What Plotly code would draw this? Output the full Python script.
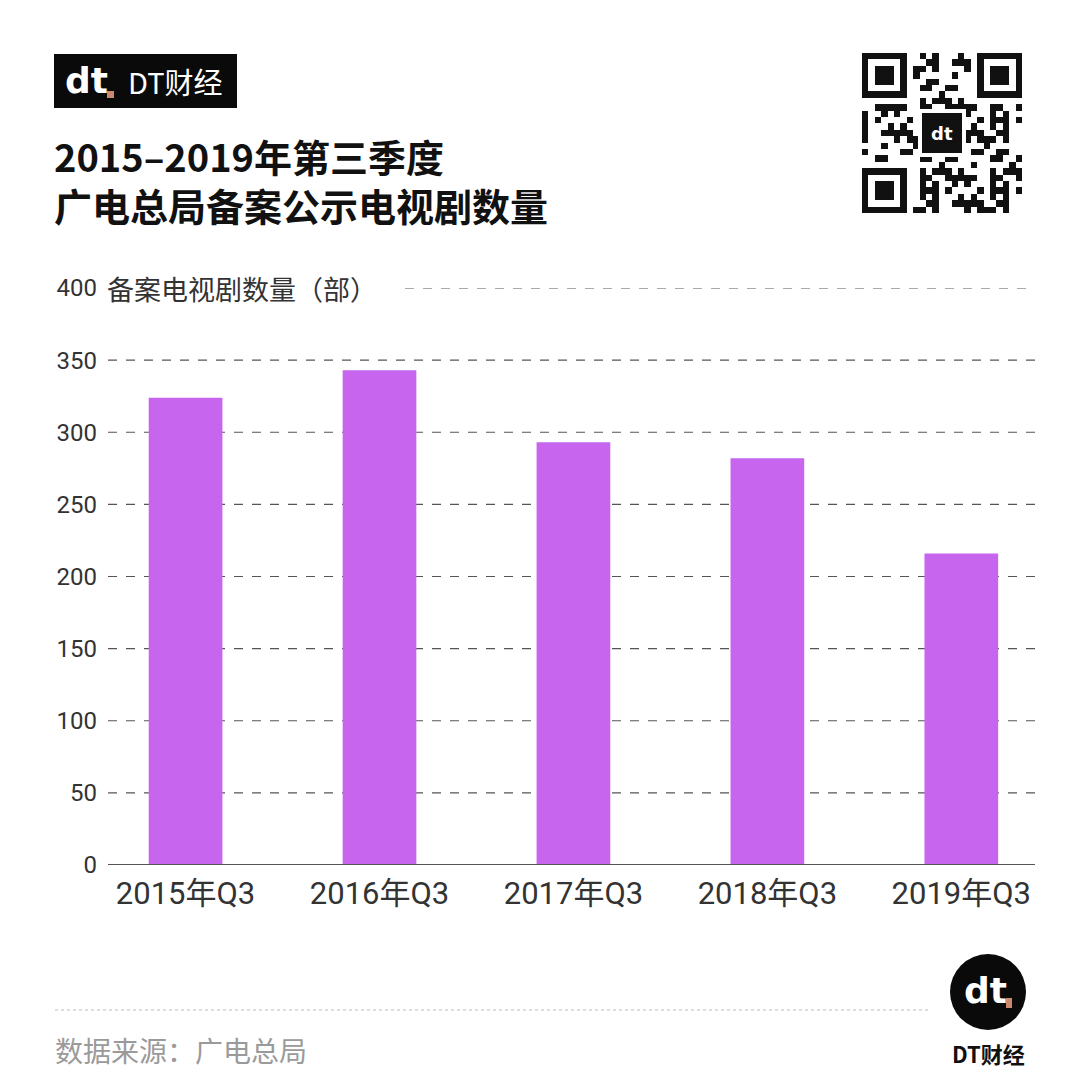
import plotly.graph_objects as go

# page body has an 8px margin; size the figure so it fits the 1080x1085 window
OFF = 8
W, H = 1080 - 2 * OFF, 1085 - 2 * OFF

categories = ["2015年Q3", "2016年Q3", "2017年Q3", "2018年Q3", "2019年Q3"]
values = [324, 343, 293, 282, 216]
y_ticks = [0, 50, 100, 150, 200, 250, 300, 350, 400]

title_line1 = "2015–2019年第三季度"
title_line2 = "广电总局备案公示电视剧数量"
y_title = "备案电视剧数量（部）"
source_text = "数据来源：广电总局"
brand = "DT财经"

CJK = "Noto Sans CJK SC, Noto Sans, sans-serif"
NUM = "Roboto, Noto Sans CJK SC, sans-serif"
BAR = "#c765ef"


def fx(px):
    return (px - OFF) / W


def fy(py):
    return 1 - (py - OFF) / H


fig = go.Figure()

fig.add_trace(go.Bar(
    x=categories, y=values, marker=dict(color=BAR, line=dict(width=0)),
    width=0.38, hoverinfo="x+y", xaxis="x", yaxis="y",
))

# decorative QR-like block
N = 25
z = []
for i in range(N):
    row = []
    for j in range(N):
        v = 1 if ((i * i * 3 + j * 7 + i * j * 5 + j * j) % 11) < 5 else 0
        for (ci, cj) in [(0, 0), (0, N - 7), (N - 7, 0)]:
            if ci <= i < ci + 7 and cj <= j < cj + 7:
                di, dj = i - ci, j - cj
                if di in (0, 6) or dj in (0, 6):
                    v = 1
                elif di in (1, 5) or dj in (1, 5):
                    v = 0
                else:
                    v = 1
            elif ci - 1 <= i <= ci + 7 and cj - 1 <= j <= cj + 7:
                v = 0
        if 9 <= i <= 15 and 9 <= j <= 15:
            v = 0
        row.append(v)
    z.append(row)

fig.add_trace(go.Heatmap(
    z=z[::-1], colorscale=[[0, "white"], [1, "#111111"]], showscale=False,
    xaxis="x2", yaxis="y2", hoverinfo="skip",
))

shapes = []
annotations = []

# gridlines
for t in y_ticks[1:]:
    x0 = fx(405) if t == 400 else fx(108)
    shapes.append(dict(type="line", xref="paper", yref="y", x0=x0, x1=fx(1035), y0=t, y1=t,
                       line=dict(color="#555555", width=1.2, dash="dash"), layer="below"))
# baseline
shapes.append(dict(type="line", xref="paper", yref="y", x0=fx(108), x1=fx(1035), y0=0, y1=0,
                   line=dict(color="#555555", width=2), layer="above"))

# top-left logo box
shapes.append(dict(type="rect", xref="paper", yref="paper", x0=fx(54), x1=fx(237), y0=fy(108), y1=fy(54),
                   fillcolor="#0a0a0a", line=dict(width=0)))
shapes.append(dict(type="rect", xref="paper", yref="paper", x0=fx(107), x1=fx(114), y0=fy(98), y1=fy(91),
                   fillcolor="#c98a6e", line=dict(width=0)))
annotations.append(dict(text="<b>dt</b>", x=fx(63), y=fy(80), xref="paper", yref="paper",
                        xanchor="left", yanchor="middle", showarrow=False,
                        font=dict(family="DejaVu Sans, sans-serif", size=36, color="white")))
annotations.append(dict(text=brand, x=fx(126), y=fy(81), xref="paper", yref="paper",
                        xanchor="left", yanchor="middle", showarrow=False,
                        font=dict(family=CJK, size=29, color="white")))

# title (two lines)
annotations.append(dict(text="<b>" + title_line1 + "<br>" + title_line2 + "</b>",
                        x=fx(52), y=fy(180), xref="paper", yref="paper",
                        xanchor="left", yanchor="middle", align="left", showarrow=False,
                        font=dict(family=CJK, size=38, color="#111111")))

# y title next to 400
annotations.append(dict(text=y_title, x=fx(105), y=400, xref="paper", yref="y",
                        xanchor="left", yanchor="middle", showarrow=False,
                        font=dict(family=CJK, size=27, color="#333333")))

# QR center logo
shapes.append(dict(type="rect", xref="paper", yref="paper", x0=fx(918), x1=fx(966), y0=fy(157), y1=fy(109),
                   fillcolor="white", line=dict(width=0)))
shapes.append(dict(type="rect", xref="paper", yref="paper", x0=fx(922), x1=fx(962), y0=fy(153), y1=fy(113),
                   fillcolor="#111111", line=dict(width=0)))
annotations.append(dict(text="<b>dt</b>", x=fx(942), y=fy(133), xref="paper", yref="paper",
                        xanchor="center", yanchor="middle", showarrow=False,
                        font=dict(family="DejaVu Sans, sans-serif", size=18, color="white")))

# footer
shapes.append(dict(type="line", xref="paper", yref="paper", x0=fx(55), x1=fx(930), y0=fy(1010), y1=fy(1010),
                   line=dict(color="#bbbbbb", width=1.2, dash="dot")))
annotations.append(dict(text=source_text, x=fx(53), y=fy(1050), xref="paper", yref="paper",
                        xanchor="left", yanchor="middle", showarrow=False,
                        font=dict(family=CJK, size=28, color="#9a9a9a")))
shapes.append(dict(type="circle", xref="paper", yref="paper", x0=fx(950), x1=fx(1026), y0=fy(1030), y1=fy(954),
                   fillcolor="#0a0a0a", line=dict(width=0)))
annotations.append(dict(text="<b>dt</b>", x=fx(985), y=fy(990), xref="paper", yref="paper",
                        xanchor="center", yanchor="middle", showarrow=False,
                        font=dict(family="DejaVu Sans, sans-serif", size=36, color="white")))
shapes.append(dict(type="rect", xref="paper", yref="paper", x0=fx(1006), x1=fx(1012), y0=fy(1008), y1=fy(998),
                   fillcolor="#c98a6e", line=dict(width=0)))
annotations.append(dict(text="<b>" + brand + "</b>", x=fx(988), y=fy(1053), xref="paper", yref="paper",
                        xanchor="center", yanchor="middle", showarrow=False,
                        font=dict(family=CJK, size=22, color="#111111")))

fig.update_layout(
    width=W, height=H,
    margin=dict(l=0, r=0, t=0, b=0, pad=0, autoexpand=False),
    paper_bgcolor="white", plot_bgcolor="rgba(0,0,0,0)",
    showlegend=False,
    shapes=shapes, annotations=annotations,
    xaxis=dict(domain=[fx(108), fx(1035)], range=[-0.4, 4.38], type="category",
               categoryorder="array", categoryarray=categories, automargin=False,
               showgrid=False, zeroline=False, showline=False, ticks="",
               tickfont=dict(family=NUM, size=31, color="#333333"), ticklabelstandoff=7),
    yaxis=dict(domain=[fy(865), fy(288)], range=[0, 400], tickvals=y_ticks, automargin=False,
               showgrid=False, zeroline=False, showline=False, ticks="",
               tickfont=dict(family=NUM, size=24, color="#333333"), ticklabelstandoff=10),
    xaxis2=dict(domain=[fx(862), fx(1022)], anchor="y2", visible=False, range=[-0.5, N - 0.5],
                automargin=False),
    yaxis2=dict(domain=[fy(213), fy(53)], anchor="x2", visible=False, range=[-0.5, N - 0.5],
                automargin=False),
)

fig.write_html("out.html")
